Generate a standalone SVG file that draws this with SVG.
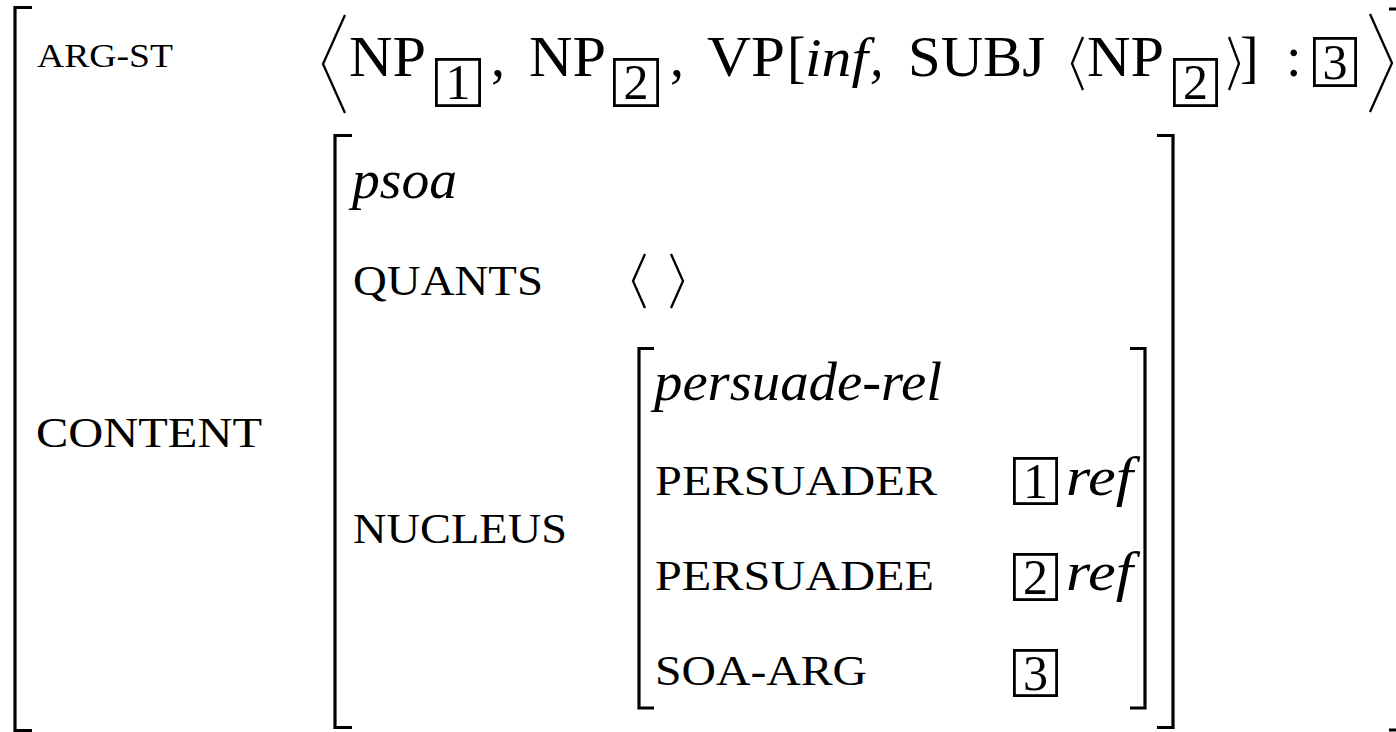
<svg xmlns="http://www.w3.org/2000/svg" width="1396" height="732" viewBox="0 0 1396 732">
<style>
text{font-family:"Liberation Serif","Times New Roman",serif;fill:#000}
.sc{font-size:42px}
.scs{font-size:34px}
.rm{font-size:56px}
.it{font-size:54px;font-style:italic}
.dg{font-size:50px;text-anchor:middle}
.br{fill:none;stroke:#000;stroke-width:3.2;stroke-linejoin:miter}
.ang{fill:none;stroke:#000;stroke-width:2.3;stroke-linejoin:miter}
.box{fill:none;stroke:#000;stroke-width:2.8}
</style>
<rect width="1396" height="732" fill="#fff"/>
<g id="outer-avm">
<path class="br" d="M32,7.5 H15 V730.5 H32"/>
<path class="br" d="M1389,9 H1399 V730 H1389"/>
</g>
<g id="arg-st">
<text class="scs" x="37" y="67" textLength="136" lengthAdjust="spacingAndGlyphs">ARG-ST</text>
<path class="ang" d="M345,15 L323,64 L345,113"/>
<text class="rm" x="349" y="76" textLength="77" lengthAdjust="spacingAndGlyphs">NP</text>
<rect class="box" x="436.4" y="59.4" width="43.2" height="46.2"/>
<text class="dg" x="458" y="99">1</text>
<text class="rm" x="491" y="76">,</text>
<text class="rm" x="529" y="76" textLength="77" lengthAdjust="spacingAndGlyphs">NP</text>
<rect class="box" x="614.4" y="59.4" width="43.2" height="46.2"/>
<text class="dg" x="636" y="99">2</text>
<text class="rm" x="670" y="76">,</text>
<text class="rm" x="707" y="76" textLength="78" lengthAdjust="spacingAndGlyphs">VP</text>
<text class="rm" x="787" y="76">[</text>
<text class="it" x="805" y="76" textLength="63" lengthAdjust="spacingAndGlyphs">inf</text>
<text class="it" x="870" y="76">,</text>
<text class="rm" x="908" y="76" textLength="137" lengthAdjust="spacingAndGlyphs">SUBJ</text>
<path class="ang" d="M1083,37 L1072,63.5 L1083,90"/>
<text class="rm" x="1087" y="76" textLength="77" lengthAdjust="spacingAndGlyphs">NP</text>
<rect class="box" x="1174.4" y="59.4" width="42.2" height="46.2"/>
<text class="dg" x="1195.5" y="99">2</text>
<path class="ang" d="M1229,37 L1239,63.5 L1229,90"/>
<text class="rm" x="1240" y="76">]</text>
<text class="rm" x="1286" y="76">:</text>
<rect class="box" x="1314.4" y="38.4" width="41.2" height="47.2"/>
<text class="dg" x="1335" y="79">3</text>
<path class="ang" d="M1370,14 L1392,63 L1370,112"/>
</g>
<g id="content">
<text class="sc" x="36" y="447" textLength="226" lengthAdjust="spacingAndGlyphs">CONTENT</text>
<path class="br" d="M352,135.5 H335 V727.5 H352"/>
<path class="br" d="M1157,135.5 H1173 V727.5 H1157"/>
<text class="it" x="352" y="198" textLength="105" lengthAdjust="spacingAndGlyphs">psoa</text>
<text class="sc" x="353" y="295" textLength="190" lengthAdjust="spacingAndGlyphs">QUANTS</text>
<path class="ang" d="M645,254 L633,281 L645,308"/>
<path class="ang" d="M671,254 L683,281 L671,308"/>
<text class="sc" x="353" y="543" textLength="214" lengthAdjust="spacingAndGlyphs">NUCLEUS</text>
</g>
<g id="nucleus">
<path class="br" d="M654,348.5 H639 V708 H654"/>
<path class="br" d="M1130,348.5 H1145 V708 H1130"/>
<text class="it" x="654" y="400" textLength="288" lengthAdjust="spacingAndGlyphs">persuade-rel</text>
<text class="sc" x="655" y="495" textLength="282" lengthAdjust="spacingAndGlyphs">PERSUADER</text>
<rect class="box" x="1014.4" y="458.4" width="42.2" height="45.2"/>
<text class="dg" x="1035.5" y="498">1</text>
<text class="it" x="1066" y="495" textLength="67" lengthAdjust="spacingAndGlyphs">ref</text>
<text class="sc" x="655" y="590" textLength="279" lengthAdjust="spacingAndGlyphs">PERSUADEE</text>
<rect class="box" x="1014.4" y="554.4" width="42.2" height="45.2"/>
<text class="dg" x="1035.5" y="594">2</text>
<text class="it" x="1066" y="590" textLength="67" lengthAdjust="spacingAndGlyphs">ref</text>
<text class="sc" x="655" y="685" textLength="212" lengthAdjust="spacingAndGlyphs">SOA-ARG</text>
<rect class="box" x="1014.4" y="650.4" width="42.2" height="45.2"/>
<text class="dg" x="1035.5" y="690">3</text>
</g>
</svg>
